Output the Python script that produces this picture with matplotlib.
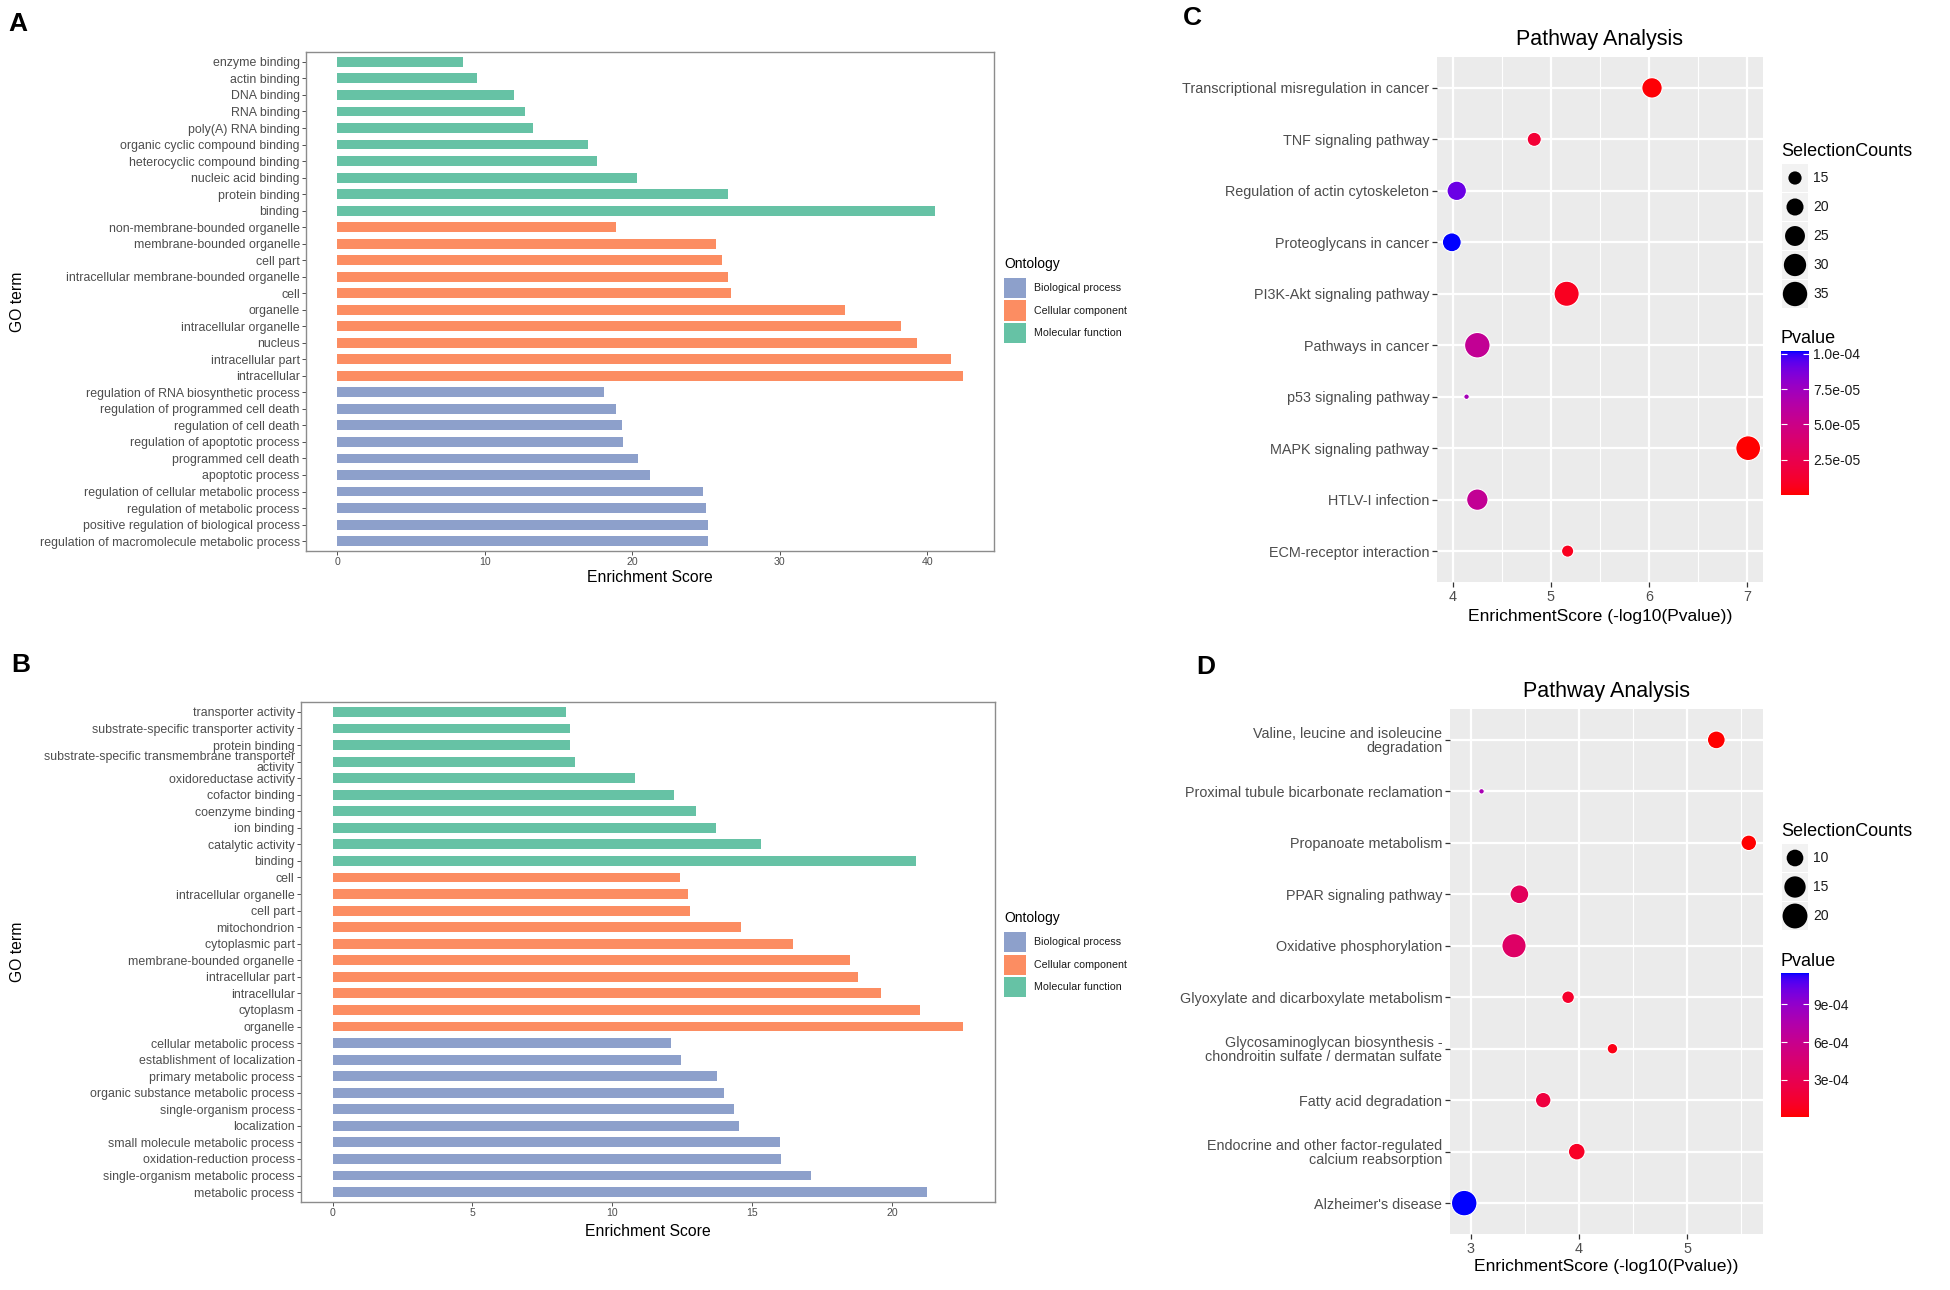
import numpy as np
import matplotlib
matplotlib.use("Agg")
import matplotlib.pyplot as plt
from matplotlib.patches import Rectangle
from matplotlib.colors import ListedColormap, Normalize
from matplotlib.cm import ScalarMappable
from matplotlib.ticker import MultipleLocator

plt.rcParams['font.family'] = ['Liberation Sans', 'DejaVu Sans']

W, H = 1950, 1290

# ---------------- data ----------------
# panel A (GO terms, top to bottom)
a_terms = ["enzyme binding", "actin binding", "DNA binding", "RNA binding",
           "poly(A) RNA binding", "organic cyclic compound binding",
           "heterocyclic compound binding", "nucleic acid binding",
           "protein binding", "binding",
           "non-membrane-bounded organelle", "membrane-bounded organelle",
           "cell part", "intracellular membrane-bounded organelle", "cell",
           "organelle", "intracellular organelle", "nucleus",
           "intracellular part", "intracellular",
           "regulation of RNA biosynthetic process",
           "regulation of programmed cell death", "regulation of cell death",
           "regulation of apoptotic process", "programmed cell death",
           "apoptotic process", "regulation of cellular metabolic process",
           "regulation of metabolic process",
           "positive regulation of biological process",
           "regulation of macromolecule metabolic process"]
a_scores = [8.5, 9.5, 12.0, 12.7, 13.3, 17.0, 17.6, 20.3, 26.5, 40.5,
            18.9, 25.7, 26.1, 26.5, 26.7, 34.4, 38.2, 39.3, 41.6, 42.4,
            18.1, 18.9, 19.3, 19.4, 20.4, 21.2, 24.8, 25.0, 25.1, 25.1]
a_groups = ["MF"] * 10 + ["CC"] * 10 + ["BP"] * 10
a_xticks = [0, 10, 20, 30, 40]

# panel B
b_terms = ["transporter activity", "substrate-specific transporter activity",
           "protein binding",
           "substrate-specific transmembrane transporter\nactivity",
           "oxidoreductase activity", "cofactor binding", "coenzyme binding",
           "ion binding", "catalytic activity", "binding",
           "cell", "intracellular organelle", "cell part", "mitochondrion",
           "cytoplasmic part", "membrane-bounded organelle",
           "intracellular part", "intracellular", "cytoplasm", "organelle",
           "cellular metabolic process", "establishment of localization",
           "primary metabolic process", "organic substance metabolic process",
           "single-organism process", "localization",
           "small molecule metabolic process", "oxidation-reduction process",
           "single-organism metabolic process", "metabolic process"]
b_scores = [8.34, 8.48, 8.5, 8.66, 10.8, 12.2, 13.0, 13.7, 15.3, 20.85,
            12.4, 12.7, 12.76, 14.6, 16.45, 18.5, 18.76, 19.6, 21.0, 22.54,
            12.1, 12.44, 13.74, 13.97, 14.34, 14.52, 16.0, 16.03, 17.1, 21.24]
b_groups = ["MF"] * 10 + ["CC"] * 10 + ["BP"] * 10
b_xticks = [0, 5, 10, 15, 20]

ont_names = {"BP": "Biological process", "CC": "Cellular component",
             "MF": "Molecular function"}
ont_colors = {"BP": "#8DA0CB", "CC": "#FC8D62", "MF": "#66C2A5"}

# panel C (KEGG pathways)
c_terms = ["Transcriptional misregulation in cancer", "TNF signaling pathway",
           "Regulation of actin cytoskeleton", "Proteoglycans in cancer",
           "PI3K-Akt signaling pathway", "Pathways in cancer",
           "p53 signaling pathway", "MAPK signaling pathway",
           "HTLV-I infection", "ECM-receptor interaction"]
c_scores = [6.03, 4.83, 4.04, 3.99, 5.16, 4.25, 4.14, 7.01, 4.25, 5.17]
c_counts = [26, 16, 24, 23, 37, 38, 11, 36, 28, 14]
c_pvals = [9.3e-7, 1.48e-5, 9.1e-5, 1.02e-4, 6.9e-6, 5.6e-5, 7.2e-5,
           9.8e-8, 5.6e-5, 6.8e-6]
c_size_breaks = [15, 20, 25, 30, 35]
c_p_breaks = [1.0e-4, 7.5e-5, 5.0e-5, 2.5e-5]
c_p_labels = ["1.0e-04", "7.5e-05", "5.0e-05", "2.5e-05"]
c_xticks = [4, 5, 6, 7]

# panel D
d_terms = ["Valine, leucine and isoleucine\ndegradation",
           "Proximal tubule bicarbonate reclamation",
           "Propanoate metabolism", "PPAR signaling pathway",
           "Oxidative phosphorylation",
           "Glyoxylate and dicarboxylate metabolism",
           "Glycosaminoglycan biosynthesis -\nchondroitin sulfate / dermatan sulfate",
           "Fatty acid degradation",
           "Endocrine and other factor-regulated\ncalcium reabsorption",
           "Alzheimer's disease"]
d_scores = [5.27, 3.10, 5.57, 3.45, 3.40, 3.90, 4.31, 3.67, 3.98, 2.94]
d_counts = [11, 5, 9, 12, 19, 7, 6, 9, 10, 21]
d_pvals = [5.4e-6, 7.9e-4, 2.7e-6, 3.5e-4, 4.0e-4, 1.26e-4, 4.9e-5,
           2.1e-4, 1.05e-4, 1.15e-3]
d_size_breaks = [10, 15, 20]
d_p_breaks = [9e-4, 6e-4, 3e-4]
d_p_labels = ["9e-04", "6e-04", "3e-04"]
d_xticks = [3, 4, 5]


# ---------------- helpers ----------------
def px_axes(fig, left, top, right, bottom):
    return fig.add_axes([left / W, 1 - bottom / H, (right - left) / W,
                         (bottom - top) / H])


def ftext(fig, x, y, s, **kw):
    return fig.text(x / W, 1 - y / H, s, **kw)


def srgb_to_lab(rgb):
    c = np.asarray(rgb, float)
    lin = np.where(c <= 0.04045, c / 12.92, ((c + 0.055) / 1.055) ** 2.4)
    M = np.array([[0.4124, 0.3576, 0.1805], [0.2126, 0.7152, 0.0722],
                  [0.0193, 0.1192, 0.9505]])
    xyz = M @ lin / np.array([0.95047, 1.0, 1.08883])
    d = 6 / 29
    f = np.where(xyz > d ** 3, np.cbrt(xyz), xyz / (3 * d * d) + 4 / 29)
    return np.array([116 * f[1] - 16, 500 * (f[0] - f[1]), 200 * (f[1] - f[2])])


def lab_to_srgb(lab):
    L, a, b = lab
    fy = (L + 16) / 116
    f = np.array([fy + a / 500, fy, fy - b / 200])
    d = 6 / 29
    xyz = np.where(f > d, f ** 3, 3 * d * d * (f - 4 / 29))
    xyz = xyz * np.array([0.95047, 1.0, 1.08883])
    Mi = np.array([[3.2406, -1.5372, -0.4986], [-0.9689, 1.8758, 0.0415],
                   [0.0557, -0.2040, 1.0570]])
    lin = np.clip(Mi @ xyz, 0, 1)
    c = np.where(lin <= 0.0031308, 12.92 * lin, 1.055 * lin ** (1 / 2.4) - 0.055)
    return np.clip(c, 0, 1)


def lab_ramp(c0, c1, n=256):
    l0, l1 = srgb_to_lab(c0), srgb_to_lab(c1)
    cols = [lab_to_srgb(l0 + (l1 - l0) * t) for t in np.linspace(0, 1, n)]
    return ListedColormap(cols)


red_blue = lab_ramp((1, 0, 0), (0, 0, 1))


def bubble_area(v, vmin, vmax):
    # ggplot-like area scale
    v = np.asarray(v, float)
    d_px = 5.5 + 20.0 * np.sqrt((v - vmin) / (vmax - vmin))
    return (d_px * 0.72) ** 2


def bar_panel(fig, box, terms, scores, groups, xticks, xlab_y, legend_y):
    ax = px_axes(fig, *box)
    y = np.arange(len(terms))
    ax.barh(y, scores, height=0.6, color=[ont_colors[g] for g in groups])
    xmax = max(scores)
    ax.set_xlim(-0.05 * xmax, 1.05 * xmax)
    ax.set_ylim(len(terms) - 0.4, -0.6)
    ax.set_yticks(y, terms, multialignment="right", linespacing=0.85)
    ax.set_xticks(xticks)
    ax.tick_params(axis="both", length=3, width=0.6, color="#333333",
                   labelcolor="#4D4D4D", pad=1.5)
    ax.tick_params(axis="y", labelsize=8.9)
    ax.tick_params(axis="x", labelsize=7.6)
    for s in ax.spines.values():
        s.set_color("#8C8C8C")
        s.set_linewidth(1.0)
    cx = (box[0] + box[2]) / 2
    ftext(fig, cx, xlab_y, "Enrichment Score", fontsize=11.3, ha="center",
          va="center")
    ftext(fig, 18, (box[1] + box[3]) / 2, "GO term", fontsize=11.3,
          rotation=90, ha="center", va="center")
    # Ontology legend
    ftext(fig, 1004, legend_y, "Ontology", fontsize=10, ha="left", va="center")
    for i, g in enumerate(["BP", "CC", "MF"]):
        cy = legend_y + 24 + i * 22.5
        fig.add_artist(Rectangle((1004 / W, 1 - (cy + 10) / H), 22 / W, 20 / H,
                                 transform=fig.transFigure,
                                 facecolor=ont_colors[g], edgecolor="none"))
        ftext(fig, 1034, cy, ont_names[g], fontsize=7.7, ha="left",
              va="center", color="#1A1A1A")
    return ax


def bubble_panel(fig, box, terms, scores, counts, pvals, xticks, title_y,
                 xlab_y, leg_y, size_breaks, pbar_box, p_breaks, p_labels):
    ax = px_axes(fig, *box)
    ax.set_facecolor("#EBEBEB")
    y = np.arange(len(terms))
    norm = Normalize(min(pvals), max(pvals))
    vmin, vmax = min(counts), max(counts)
    ax.scatter(scores, y, s=bubble_area(counts, vmin, vmax), c=pvals,
               cmap=red_blue, norm=norm, edgecolors="white", linewidths=0.8,
               zorder=3)
    span = max(scores) - min(scores)
    ax.set_xlim(min(scores) - 0.05 * span, max(scores) + 0.05 * span)
    ax.set_ylim(len(terms) - 0.4, -0.6)
    ax.set_yticks(y, terms, multialignment="right", linespacing=1.0)
    ax.set_xticks(xticks)
    ax.xaxis.set_minor_locator(MultipleLocator(0.5))
    ax.grid(which="major", color="white", linewidth=1.6)
    ax.grid(which="minor", axis="x", color="white", linewidth=0.8)
    ax.set_axisbelow(True)
    for s in ax.spines.values():
        s.set_visible(False)
    ax.tick_params(which="major", length=3.5, width=0.9, color="#333333",
                   labelcolor="#4D4D4D", labelsize=10.4, pad=2)
    ax.tick_params(which="minor", length=0)
    cx = (box[0] + box[2]) / 2
    ftext(fig, cx, title_y, "Pathway Analysis", fontsize=15.5, ha="center",
          va="center")
    ftext(fig, cx, xlab_y, "EnrichmentScore (-log10(Pvalue))", fontsize=12.6,
          ha="center", va="center")

    # size legend
    ftext(fig, 1781, leg_y, "SelectionCounts", fontsize=13, ha="left",
          va="center")
    n = len(size_breaks)
    top = leg_y + 12.5
    lax = px_axes(fig, 1781, top, 1900, top + 29 * n)
    lax.set_xlim(0, 119)
    lax.set_ylim(29 * n, 0)
    lax.axis("off")
    for i, b in enumerate(size_breaks):
        lax.add_patch(Rectangle((1, 29 * i + 0.5), 26, 28, facecolor="#F2F2F2",
                                edgecolor="none"))
        lax.scatter([14], [29 * i + 14.5], s=bubble_area([b], vmin, vmax),
                    color="black", edgecolors="none")
        lax.text(32, 29 * i + 14.5, str(b), fontsize=10, va="center",
                 ha="left", color="#1A1A1A")

    # colour bar
    ftext(fig, 1781, pbar_box[1] - 12, "Pvalue", fontsize=13, ha="left",
          va="center")
    cax = px_axes(fig, *pbar_box)
    cb = fig.colorbar(ScalarMappable(norm=norm, cmap=red_blue), cax=cax)
    cb.outline.set_visible(False)
    cb.set_ticks(p_breaks)
    cb.set_ticklabels(p_labels)
    cax.tick_params(direction="in", color="white", length=4, width=0.8,
                    left=True, right=True, labelsize=10, labelcolor="#1A1A1A",
                    pad=3)
    return ax


# ---------------- figure ----------------
fig = plt.figure(figsize=(W / 100, H / 100), dpi=100)

bar_panel(fig, (306, 52, 994, 551), a_terms, a_scores, a_groups, a_xticks,
          xlab_y=578, legend_y=264)
bar_panel(fig, (301, 702, 995, 1202), b_terms, b_scores, b_groups, b_xticks,
          xlab_y=1231, legend_y=918)

bubble_panel(fig, (1437, 57, 1763, 582), c_terms, c_scores, c_counts, c_pvals,
             c_xticks, title_y=39, xlab_y=617, leg_y=151,
             size_breaks=c_size_breaks, pbar_box=(1781, 351, 1809, 495),
             p_breaks=c_p_breaks, p_labels=c_p_labels)
bubble_panel(fig, (1450, 709, 1763, 1234), d_terms, d_scores, d_counts,
             d_pvals, d_xticks, title_y=691, xlab_y=1267, leg_y=831,
             size_breaks=d_size_breaks, pbar_box=(1781, 973, 1809, 1117),
             p_breaks=d_p_breaks, p_labels=d_p_labels)

for letter, x, y in [("A", 18, 24), ("B", 21, 665), ("C", 1192, 18),
                     ("D", 1206, 667)]:
    ftext(fig, x, y, letter, fontsize=19, fontweight="bold", ha="center",
          va="center")

fig.savefig("out.png", dpi=100)
